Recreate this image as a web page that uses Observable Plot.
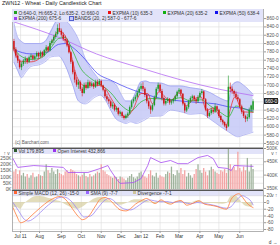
<!DOCTYPE html>
<html><head><meta charset="utf-8">
<script src="https://cdn.jsdelivr.net/npm/d3@7"></script>
<script src="https://cdn.jsdelivr.net/npm/@observablehq/plot@0.6"></script>
<style>
body{margin:0;background:#fff;}
#root{position:relative;width:280px;height:245px;overflow:hidden;font-family:"Liberation Sans",Arial,sans-serif;}
.pane{position:absolute;left:0;}
.band{position:absolute;left:12px;width:251px;background:#e2e3f9;}
.lg{position:absolute;font-size:4.8px;color:#333;white-space:nowrap;line-height:5px;}
.sq{display:inline-block;width:3px;height:3px;margin-right:1.5px;vertical-align:0.2px;}
svg{overflow:visible}
</style></head><body>
<div id="root">
  <div class="lg" style="left:2px;top:1px;font-size:5.4px;color:#222;">ZWN12 - Wheat - Daily Candlestick Chart</div>
</div>
<script>
// ---------- data ----------
const monthStart = [0, 20, 43, 64, 85, 106, 127, 147, 167, 189, 209, 231];
const monthLabels = ["Jul 11","Aug","Sep","Oct","Nov","Dec","Jan 12","Feb","Mar","Apr","May","Jun"];
const priceTicks = [560,580,600,620,640,660,680,700,720,740,760,780,800,820,840,860];
const volTicks = [0,50,100,150,200,250];
const oiTicks = [350,400,450,500];
const macdTicks = [20,0,-20,-40,-60,-80];

const candleDay = d3.range(-7, 246, 2);
const O = [805,785,770,758,742,750,758,762,755,766,
 770,762,768,776,768,778,770,783,790,782,
 800,806,815,822,836,830,820,810,806,794,
 778,755,730,712,700,706,690,680,700,692,
 706,698,703,695,707,700,709,698,688,672,
 665,660,648,652,640,644,630,634,625,620,
 626,631,646,660,665,671,681,690,697,690,
 675,660,648,640,651,670,690,700,685,668,
 655,661,666,657,660,665,672,683,688,678,
 655,638,646,660,668,672,665,660,670,680,
 684,665,640,625,632,640,635,648,640,625,
 615,610,602,600,695,690,685,678,670,665,
 648,635,625,618,622,640,640];
const H = [810,790,775,762,755,762,768,765,770,775,
 772,772,780,779,782,781,786,795,793,805,
 810,820,828,845,848,835,826,818,810,798,
 780,758,735,718,712,710,695,705,706,712,
 710,708,706,712,712,714,712,700,690,678,
 670,664,658,655,648,646,638,636,628,630,
 635,650,664,670,676,686,695,703,706,694,
 678,664,652,655,674,694,705,703,690,672,
 665,670,668,664,668,676,686,692,690,680,
 658,650,664,672,676,675,668,675,684,690,
 686,668,644,636,645,643,655,650,642,628,
 618,612,606,722,705,696,688,684,676,668,
 652,640,628,630,645,652,665];
const L = [780,765,752,738,735,745,750,750,752,760,
 758,758,765,764,765,766,768,778,778,780,
 795,800,810,818,826,815,805,800,790,775,
 750,725,705,695,690,685,672,678,688,690,
 692,694,690,692,696,698,694,684,668,660,
 654,644,642,636,635,626,624,620,616,617,
 620,628,642,655,660,668,676,686,684,670,
 655,642,630,636,648,666,685,680,662,650,
 650,656,652,652,655,660,668,678,672,650,
 632,634,642,656,662,660,654,656,666,676,
 662,636,620,622,628,630,632,636,620,610,
 604,598,590,598,682,678,672,665,660,644,
 630,620,610,612,618,635,635];
const C = [785,770,758,742,750,758,762,755,766,770,
 762,768,776,768,778,770,783,790,782,800,
 806,815,822,836,830,820,810,806,794,778,
 755,730,712,700,706,690,680,700,692,706,
 698,703,695,707,700,709,698,688,672,665,
 660,648,652,640,644,630,634,625,620,626,
 631,646,660,665,671,681,690,697,690,675,
 660,648,640,651,670,690,700,685,668,655,
 661,666,657,660,665,672,683,688,678,655,
 638,646,660,668,672,665,660,670,680,684,
 665,640,625,632,640,635,648,640,625,615,
 610,602,596,695,690,685,678,670,665,648,
 635,625,618,622,640,650,660];
const volume = [140,160,120,150,110,130,100,120,90,110,
 130,95,100,120,110,105,140,200,150,130,
 170,140,120,160,130,120,110,140,150,130,
 160,150,140,120,110,100,115,130,105,95,
 120,100,110,125,140,130,200,150,140,120,
 110,100,90,105,95,80,100,95,85,70,
 90,105,120,95,85,100,130,140,110,100,
 90,120,150,110,100,130,90,110,100,95,
 120,140,130,180,120,110,150,130,170,120,
 150,100,130,110,90,120,160,200,150,130,
 170,140,110,150,180,160,140,130,120,150,
 140,160,130,350,200,160,180,150,300,170,
 140,180,150,250,140,200,160];

const bandDay = [-7,-3,1,5,11,21,27,32,40,47,55,61,68,79,84,90,95,101,106,111,116,122,127,132,137,148,158,169,179,190,200,211,219,223,229,235,245];
const bandHi = [850,815,805,800,800,800,808,830,858,855,835,810,765,725,712,712,710,700,678,662,662,686,708,710,706,705,698,698,694,690,682,668,662,700,708,700,678];
const bandLo = [755,735,718,730,745,750,758,768,770,748,700,662,655,672,676,662,640,618,612,608,612,608,612,618,625,626,640,636,630,632,618,600,588,582,576,580,587];

const ema200Day = [-7,40,80,127,170,210,245];
const ema200 = [852,815,775,741,712,690,675];
const ema50Day = [-7,11,27,40,47,58,68,81,95,106,119,132,148,169,190,206,219,232,245];
const ema50 = [785,775,778,798,800,785,762,728,712,700,688,678,668,662,658,655,648,645,638];
const ema20Day = [-7,-1,11,21,32,40,47,55,63,74,84,95,106,116,127,137,148,158,169,179,190,200,211,219,227,237,245];
const ema20 = [790,772,762,765,790,812,815,782,742,716,702,682,652,638,660,668,667,665,670,662,665,650,634,624,650,642,635];
const ema10Day = [-7,-1,11,21,32,40,46,53,59,68,79,87,95,103,111,118,127,134,139,146,151,158,167,174,182,190,196,203,211,217,221,226,234,245];
const ema10 = [785,758,756,766,800,830,822,775,722,698,700,697,670,640,624,640,680,680,655,685,675,662,682,650,666,672,640,645,620,604,642,672,636,635];

const oiDay = [-8,-3,14,32,45,50,71,84,92,95,102,105,119,127,134,137,148,158,166,176,187,197,203,208,218,222,225,245];
const oi = [462,429,436,432,429,410,410,425,436,417,380,369,372,387,436,466,447,455,443,443,466,474,462,429,425,417,436,433];

const macdDay = [-8,-4,0,5,13,21,30,37,42,47,55,61,65,72,79,84,89,95,100,105,111,116,121,127,133,137,142,148,153,158,164,169,175,181,188,194,200,207,213,217,222,226,230,234,238,243,245];
const macd = [-15,-40,-60,-55,-35,-15,5,15,18,10,-20,-42,-51,-40,-10,10,15,5,-10,-22,-25,-18,-5,5,12,5,-3,8,0,-5,3,6,-8,-3,5,-5,-8,-12,-18,-20,10,22,26,15,0,-12,-15];
const sigDay = [-8,-2,4,8,17,25,34,40,46,53,60,67,74,81,88,93,98,103,110,116,122,129,135,141,148,154,160,167,173,179,186,192,198,205,211,217,222,226,230,234,238,243,245];
const sig = [0,-25,-50,-55,-40,-18,3,14,16,5,-20,-43,-40,-18,5,12,6,-8,-20,-22,-14,0,8,5,2,3,0,2,0,-4,0,-2,-5,-9,-14,-17,-12,2,14,20,15,3,-7];
const divDay = [-8,-4,0,4,8,13,17,21,25,30,34,37,42,47,53,55,61,65,72,79,84,89,95,100,105,111,116,121,127,133,137,142,148,153,158,164,169,175,181,188,194,200,207,213,217,222,226,230,234,238,243,245];
const divg = [-15,-15,-20,-5,5,15,18,18,16,12,10,6,3,-6,-15,-18,-20,-15,0,12,15,12,2,-5,-8,-4,4,8,8,5,0,-5,5,-2,-5,2,4,-6,0,5,-3,-3,-4,-5,-3,18,20,12,-3,-12,-14,-8];

const lastClose = 660;

// ---------- build ----------
const UP = "#1f9a2a", DN = "#d01818";
const candles = candleDay.map((d,k)=>({d, o:O[k], h:H[k], l:L[k], c:C[k], v:volume[k]}));
const pair = (xs, ys) => xs.map((d,k)=>({d, v:ys[k]}));
const bands = bandDay.map((d,k)=>({d, hi:bandHi[k], lo:bandLo[k]}));
const xDom = [-8.5, 256];
const font = {fontFamily:"Liberation Sans, Arial, sans-serif", fontSize:"4.8px", color:"#555", background:"transparent", overflow:"visible"};
const grid = {stroke:"#dcdcdc", strokeWidth:0.6};
const root = document.getElementById("root");

function place(el, top){ const w=document.createElement("div"); w.className="pane"; w.style.top=top+"px"; w.appendChild(el); root.appendChild(w); return w; }
function band(top,h){ const b=document.createElement("div"); b.className="band"; b.style.top=top+"px"; b.style.height=h+"px"; root.appendChild(b); }
function legend(left, top, color, text, extra){ const d=document.createElement("div"); d.className="lg"; d.style.left=left+"px"; d.style.top=top+"px";
  d.innerHTML = `<span class="sq" style="background:${color};${extra||""}"></span>${text}`; root.appendChild(d); }

const main = Plot.plot({
  width:280, height:138, marginLeft:12, marginRight:17, marginTop:0, marginBottom:0,
  style:font, color:{type:"identity"},
  x:{domain:xDom, axis:null}, y:{domain:[550.3,881.8], axis:null},
  marks:[
    Plot.ruleX(monthStart, grid),
    Plot.ruleY(priceTicks, grid),
    Plot.areaY(bands,{x:"d", y1:"lo", y2:"hi", fill:"#c6c9f7", fillOpacity:0.85, curve:"monotone-x"}),
    Plot.line(bands,{x:"d", y:"hi", stroke:"#8f94ee", strokeWidth:0.6, curve:"monotone-x"}),
    Plot.line(bands,{x:"d", y:"lo", stroke:"#8f94ee", strokeWidth:0.6, curve:"monotone-x"}),
    Plot.line(pair(ema200Day,ema200),{x:"d", y:"v", stroke:"#b56cf3", strokeWidth:0.8, curve:"monotone-x"}),
    Plot.line(pair(ema50Day,ema50),{x:"d", y:"v", stroke:"#3a3af2", strokeWidth:0.7, curve:"monotone-x"}),
    Plot.line(pair(ema20Day,ema20),{x:"d", y:"v", stroke:"#22b322", strokeWidth:0.7, curve:"monotone-x"}),
    Plot.line(pair(ema10Day,ema10),{x:"d", y:"v", stroke:"#f01c1c", strokeWidth:0.7, curve:"monotone-x"}),
    Plot.ruleX(candles,{x:"d", y1:"l", y2:"h", stroke:d=>d.c>=d.o?UP:DN, strokeWidth:0.6}),
    Plot.ruleX(candles,{x:"d", y1:"o", y2:"c", stroke:d=>d.c>=d.o?UP:DN, strokeWidth:1.5}),
    Plot.axisY({anchor:"right", ticks:priceTicks, tickFormat:d=>d+"-0", tickSize:2, tickPadding:1, stroke:"#999", fill:"#555"}),
    Plot.frame({stroke:"#a0a0a0", strokeWidth:0.8})
  ]
});
place(main, 9);
band(9, 12.5);
legend(14, 10.5, "#22a022", "O:640-0, Hi:665-2, Lo:635-2, Cl:660-0");
legend(108, 10.5, "#ee1111", "EXPMA (10) 635-3");
legend(163, 10.5, "#11b011", "EXPMA (20) 635-2");
legend(215, 10.5, "#1111ee", "EXPMA (50) 638-4");
legend(14, 16, "#a040f0", "EXPMA (200) 675-6");
legend(70, 16, "#c6c9f7", "BANDS (20, 2) 587-0 - 677-6", "outline:0.6px solid #5060d0;");
const cr = document.createElement("div"); cr.className="lg"; cr.style.left="15px"; cr.style.top="140px"; cr.style.color="#666"; cr.style.fontSize="4.6px"; cr.textContent="(c) Barchart.com"; root.appendChild(cr);
const yS = main.scale("y");
const lb = document.createElement("div"); lb.className="lg";
Object.assign(lb.style,{left:"264px", top:(9+yS.apply(lastClose)-3)+"px", background:"#222", color:"#fff", padding:"0.5px 1px", lineHeight:"5px"});
lb.textContent = lastClose + "-0"; root.appendChild(lb);

// volume + open interest
band(148, 6);
const volPlot = Plot.plot({
  width:280, height:41, marginLeft:12, marginRight:17, marginTop:0, marginBottom:0,
  style:font, color:{type:"identity"},
  x:{domain:xDom, axis:null}, y:{domain:[0,330], axis:null},
  marks:[
    Plot.ruleX(monthStart, grid),
    Plot.ruleY(volTicks, grid),
    Plot.ruleX(candles,{x:"d", y1:0, y2:"v", stroke:d=>d.c>=d.o?"#9fb39c":"#f3a3a3", strokeWidth:1.3, clip:true}),
    Plot.axisY({anchor:"left", ticks:volTicks, tickFormat:d=>d+"K", tickSize:0, tickPadding:1, fill:"#555"}),
    Plot.frame({stroke:"#a0a0a0", strokeWidth:0.8})
  ]
});
place(volPlot, 148);
const oiPlot = Plot.plot({
  width:280, height:41, marginLeft:12, marginRight:17, marginTop:0, marginBottom:0,
  style:font,
  x:{domain:xDom, axis:null}, y:{domain:[346,500], axis:null},
  marks:[
    Plot.line(pair(oiDay,oi),{x:"d", y:"v", stroke:"#a64df0", strokeWidth:0.8}),
    Plot.axisY({anchor:"right", ticks:oiTicks, tickFormat:d=>d+"K", tickSize:2, tickPadding:1, stroke:"#999", fill:"#555"})
  ]
});
place(oiPlot, 148);
legend(14, 148.5, "#2d5a2d", "Vol 179,895");
legend(53, 148.5, "#9933ee", "Open Interest 432,866");

// MACD
band(190, 6);
const macdPlot = Plot.plot({
  width:280, height:56, marginLeft:12, marginRight:17, marginTop:0, marginBottom:15,
  style:font,
  x:{domain:xDom, axis:null}, y:{domain:[-86,35.6], axis:null},
  marks:[
    Plot.ruleX(monthStart, grid),
    Plot.ruleY(macdTicks, grid),
    Plot.areaY(pair(divDay,divg),{x:"d", y:"v", fill:"#d8d0a4", fillOpacity:0.75, curve:"monotone-x"}),
    Plot.line(pair(sigDay,sig),{x:"d", y:"v", stroke:"#9c86f2", strokeWidth:0.8, curve:"monotone-x"}),
    Plot.line(pair(macdDay,macd),{x:"d", y:"v", stroke:"#ff7a3a", strokeWidth:0.8, curve:"monotone-x"}),
    Plot.axisY({anchor:"right", ticks:macdTicks, tickFormat:d=>d, tickSize:2, tickPadding:1, stroke:"#999", fill:"#555"}),
    Plot.axisX({anchor:"bottom", ticks:monthStart, tickFormat:d=>monthLabels[monthStart.indexOf(d)], tickSize:2, tickPadding:1.5, stroke:"#999", fill:"#333"}),
    Plot.frame({stroke:"#a0a0a0", strokeWidth:0.8})
  ]
});
place(macdPlot, 190);
legend(14, 190.5, "#ff6633", "Simple MACD (12, 26) -15-0");
legend(86, 190.5, "#9966ff", "SMA (9) -7-7");
legend(133, 190.5, "#cfc49a", "Divergence -7-1");

// dark separators
[147.5, 189.5].forEach(t=>{ const s=document.createElement("div"); Object.assign(s.style,{position:"absolute",left:"12px",width:"251px",top:t+"px",height:"1px",background:"#555"}); root.appendChild(s); });
</script>
</body></html>
